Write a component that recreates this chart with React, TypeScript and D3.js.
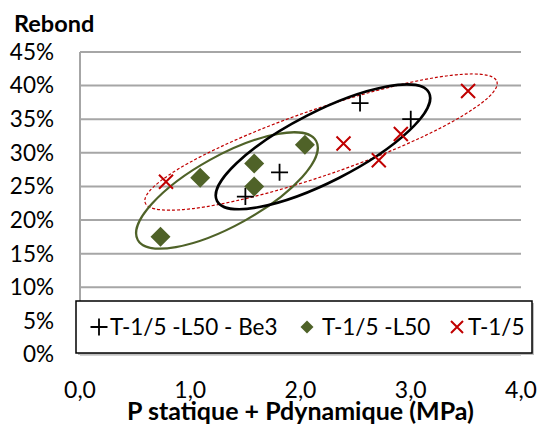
import React from 'react';
import * as d3 from 'd3';

// Series (x in MPa, y as fraction)
const be3X = [1.5, 1.81, 2.54, 3.0];
const be3Y = [0.235, 0.271, 0.374, 0.35];
const l50X = [0.73, 1.09, 1.58, 1.58, 2.04];
const l50Y = [0.175, 0.263, 0.25, 0.284, 0.312];
const t15X = [0.78, 2.39, 2.71, 2.91, 3.52];
const t15Y = [0.257, 0.314, 0.289, 0.328, 0.392];

const yTicks = [0, 0.05, 0.1, 0.15, 0.2, 0.25, 0.3, 0.35, 0.4, 0.45];
const xTicks = [0, 1, 2, 3, 4];
const seriesNames = ['T-1/5 -L50 - Be3', 'T-1/5 -L50', 'T-1/5'];

const W = 540;
const H = 426;
const FONT = 'Lato, sans-serif';
const GREEN = '#4f6228';
const RED = '#c00000';

export default function App() {
  const x = d3.scaleLinear().domain([0, 4]).range([80, 521]);
  const y = d3.scaleLinear().domain([0, 0.45]).range([354.5, 52]);

  const plus = (cx: number, cy: number, k: string) => (
    <path key={k} d={`M${cx - 8.5},${cy}h17M${cx},${cy - 8.5}v17`} stroke="#000" strokeWidth={1.8} fill="none" />
  );
  const diamond = (cx: number, cy: number, k: string, r = 10) => (
    <path key={k} d={`M${cx},${cy - r}L${cx + r},${cy}L${cx},${cy + r}L${cx - r},${cy}Z`} fill={GREEN} />
  );
  const cross = (cx: number, cy: number, k: string, r = 7) => (
    <path key={k} d={`M${cx - r},${cy - r}L${cx + r},${cy + r}M${cx - r},${cy + r}L${cx + r},${cy - r}`} stroke={RED} strokeWidth={2} fill="none" />
  );

  // hand drawn grouping ellipses (centre in data units, radii in px)
  const ellipses = [
    { cx: 2.186, cy: 0.316, rx: 186, ry: 33, rot: -19, stroke: RED, w: 1.2, dash: '3,2' },
    { cx: 1.333, cy: 0.244, rx: 102, ry: 35, rot: -29, stroke: GREEN, w: 2.2, dash: undefined },
    { cx: 2.204, cy: 0.309, rx: 119, ry: 35, rot: -27, stroke: '#000', w: 2.6, dash: undefined },
  ];

  return (
    <svg width={W} height={H} style={{ position: 'absolute', left: 0, top: 0, background: '#fff' }} fontFamily={FONT}>
      <rect width={W} height={H} fill="#fff" />
      <text x={14} y={32} fontSize={23.5} fontWeight="bold">Rebond</text>

      {yTicks.map(t => (
        <g key={t}>
          <line x1={x(0)} x2={x(4)} y1={y(t)} y2={y(t)} stroke="#a6a6a6" strokeWidth={2} />
          <text x={54} y={y(t)} dy="0.35em" textAnchor="end" fontSize={22.5}>{`${Math.round(t * 100)}%`}</text>
        </g>
      ))}
      <line x1={x(0)} x2={x(0)} y1={y(0.45)} y2={y(0)} stroke="#a6a6a6" strokeWidth={2} />

      {xTicks.map(t => (
        <text key={t} x={x(t)} y={398} textAnchor="middle" fontSize={23}>{d3.format('.1f')(t).replace('.', ',')}</text>
      ))}
      <text x={(x(0) + x(4)) / 2} y={420} textAnchor="middle" fontSize={25} fontWeight="bold">P statique + Pdynamique (MPa)</text>

      {ellipses.map((e, i) => (
        <ellipse key={i} transform={`translate(${x(e.cx)},${y(e.cy)}) rotate(${e.rot})`} rx={e.rx} ry={e.ry}
          fill="none" stroke={e.stroke} strokeWidth={e.w} strokeDasharray={e.dash} />
      ))}

      {be3X.map((v, i) => plus(x(v), y(be3Y[i]), 'p' + i))}
      {l50X.map((v, i) => diamond(x(v), y(l50Y[i]), 'd' + i))}
      {t15X.map((v, i) => cross(x(v), y(t15Y[i]), 'c' + i))}

      {/* legend */}
      <rect x={78} y={303} width={456} height={52} fill="#bfbfbf" />
      <rect x={76} y={301} width={456} height={52} fill="#fff" stroke="#000" strokeWidth={1.5} />
      {plus(99, 327, 'lp')}
      <text x={110} y={327} dy="0.35em" fontSize={22.5}>{seriesNames[0]}</text>
      {diamond(307, 327, 'ld', 6.5)}
      <text x={322} y={327} dy="0.35em" fontSize={22.5}>{seriesNames[1]}</text>
      {cross(457, 327, 'lc', 6)}
      <text x={468} y={327} dy="0.35em" fontSize={22.5}>{seriesNames[2]}</text>
    </svg>
  );
}
